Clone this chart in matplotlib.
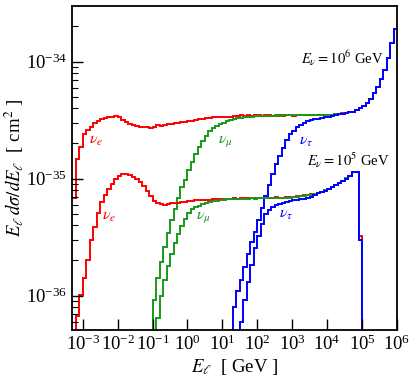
import numpy as np
import matplotlib
matplotlib.use('Agg')
import matplotlib.pyplot as plt

plt.rcParams['font.family'] = 'serif'
plt.rcParams['font.serif'] = ['Liberation Serif', 'DejaVu Serif']
plt.rcParams['mathtext.fontset'] = 'stix'

# lepton energy bins, 10 per decade (GeV)
log_edges = np.round(np.arange(-3.3, 6.05, 0.1), 2)

# E_l dsigma/dE_l in units of 1e-36 cm^2, one value per bin
nue_1e6 = [6.84, 14.7, 18.7, 24.1, 26.1, 27.7, 29.9, 31.1, 32.4, 33.0,
           33.7, 34.0, 34.3, 33.4, 31.8, 30.5, 29.3, 28.8, 28.2, 27.7,
           27.7, 27.4, 27.1, 27.7, 28.5, 28.2, 28.8, 29.3, 29.6, 29.9,
           30.2, 30.5, 30.8, 31.1, 31.4, 31.8, 32.1, 32.4, 32.7, 33.0,
           33.4, 33.4, 33.7, 33.7, 34.0, 34.0, 34.3, 34.2, 35.0, 34.6,
           34.9, 34.3, 34.8, 35.1, 34.5, 34.7, 35.0, 34.6, 34.4, 34.8,
           34.6, 34.7, 34.9, 34.6, 34.8, 34.9, 34.7, 34.9, 35.0, 34.8,
           35.0, 35.1, 35.0, 35.1, 35.2, 35.4, 35.7, 36.1, 36.4, 36.8,
           37.5, 38.6, 40.2, 41.8, 44.4, 48.0, 54.0, 60.8, 71.1, 84.9,
           107.5, 144.5, 190.3]
numu_1e6 = [0] * 23 + [
           0.919, 1.42, 1.94, 2.61, 3.43, 4.44, 5.51, 6.84, 8.49, 9.75,
           11.9, 13.9, 16.3, 18.7, 21.0, 23.2, 25.6, 27.1, 28.2, 29.3,
           30.2, 31.1, 31.8, 32.4, 32.7, 33.0, 33.4, 33.7, 34.0, 34.3,
           34.3, 34.5, 34.4, 34.6, 34.5, 34.7, 34.6, 34.8, 34.7, 34.8,
           34.9, 34.8, 34.9, 35.0, 34.9, 35.1, 35.0, 35.1, 35.2, 35.2,
           35.3, 35.2, 35.5, 35.7, 36.0, 36.4, 36.9, 37.4, 38.5, 40.1,
           41.9, 44.3, 48.1, 53.8, 60.9, 71.0, 85.0, 107.3, 144.7, 190.0]
nutau_1e6 = [0] * 46 + [
           0.80, 1.10, 1.36, 1.76, 2.27, 2.88, 3.50, 4.44, 5.62, 7.11,
           8.83, 11.0, 13.4, 15.6, 18.3, 21.4, 24.1, 25.6, 27.7, 29.0,
           30.2, 31.1, 31.8, 32.1, 32.4, 33.0, 33.4, 33.7, 34.3, 35.0,
           35.5, 36.0, 36.4, 36.8, 37.5, 38.6, 40.2, 41.8, 44.4, 48.0,
           54.0, 60.8, 71.1, 84.9, 107.5, 144.5, 190.3]

nue_1e5 = [0.418, 0.671, 1.014, 1.42, 2.02, 2.99, 3.86, 5.09, 6.32, 7.26,
           8.16, 9.01, 9.94, 10.65, 11.0, 11.0, 10.75, 10.3, 9.94, 9.37,
           8.66, 7.85, 7.11, 6.45, 6.20, 6.08, 5.96, 6.08, 6.14, 6.20,
           6.26, 6.32, 6.38, 6.45, 6.51, 6.58, 6.64, 6.60, 6.62, 6.60,
           6.66, 6.70, 6.68, 6.74, 6.77, 6.72, 6.80, 6.76, 6.82, 6.78,
           6.84, 6.80, 6.86, 6.83, 6.88, 6.84, 6.90, 6.86, 6.92, 6.88,
           6.90, 6.93, 6.91, 6.98, 7.05, 7.11, 7.19, 7.26, 7.33, 7.47,
           7.55, 7.70, 7.93, 8.16, 8.49, 8.83, 9.19, 9.56, 10.0, 10.65,
           11.4, 11.5, 3.24] + [0] * 10
numu_1e5 = [0] * 24 + [
           0.645, 0.994, 1.36, 1.79, 2.27, 2.82, 3.37, 3.94, 4.52, 5.09,
           5.51, 5.73, 5.90, 6.08, 6.20, 6.32, 6.45, 6.51, 6.58, 6.64,
           6.66, 6.70, 6.68, 6.72, 6.74, 6.72, 6.76, 6.78, 6.77, 6.80,
           6.82, 6.81, 6.84, 6.86, 6.85, 6.88, 6.89, 6.90, 6.90, 6.96,
           7.03, 7.12, 7.17, 7.27, 7.31, 7.45, 7.56, 7.68, 7.95, 8.14,
           8.51, 8.80, 9.22, 9.53, 10.05, 10.6, 11.35, 11.5, 2.99] + [0] * 10
nutau_1e5 = [0] * 48 + [
           0.596, 0.919, 1.31, 1.83, 2.56, 3.24, 4.10, 4.99, 5.40, 5.73,
           5.96, 6.08, 6.20, 6.32, 6.45, 6.58, 6.64, 6.71, 6.77, 6.84,
           6.98, 7.20, 7.50, 7.65, 7.90, 8.15, 8.45, 8.80, 9.15,
           9.55, 10.0, 10.6, 11.4, 11.5, 2.99] + [0] * 10

colors = {'e': '#ff0000', 'mu': '#1a991a', 'tau': '#0000ff'}

fig = plt.figure(figsize=(4.15, 3.84), dpi=100)
ax = fig.add_axes([72 / 415, 1 - 330 / 384, 325 / 415, 324 / 384])

edges = 10.0 ** log_edges
series = [(nue_1e6, 'e'), (numu_1e6, 'mu'), (nutau_1e6, 'tau'),
          (nue_1e5, 'e'), (numu_1e5, 'mu'), (nutau_1e5, 'tau')]
for vals, fl in series:
    v = np.array(vals, dtype=float) * 1e-36
    ax.stairs(v, edges, baseline=None, color=colors[fl], lw=1.4)

ax.set_xscale('log')
ax.set_yscale('log')
ax.set_xlim(10 ** -3.307, 1e6)
ax.set_ylim(10 ** -36.293, 10 ** -33.524)
ax.set_xticks(10.0 ** np.arange(-3, 7))
ax.set_yticks([1e-36, 1e-35, 1e-34])

ax.tick_params(which='both', direction='in', top=False, right=False,
               labelsize=13.5)
ax.tick_params(which='major', length=8, width=1)
ax.tick_params(which='minor', length=4.5, width=0.8)
for s in ax.spines.values():
    s.set_linewidth(1.3)

ax.set_xlabel(r'$E_\ell$  [ GeV ]', fontsize=13.5, labelpad=2)
ax.set_ylabel(r'$E_\ell\,d\sigma/dE_\ell$  [ cm$^2$ ]', fontsize=13.5)
ax.yaxis.set_label_coords(-0.14, 0.5)

# curve labels
tx = ax.transAxes
ax.text(0.074, 0.586, r'$\nu_e$', color=colors['e'], fontsize=11.5, ha='center', va='center', transform=tx)
ax.text(0.114, 0.352, r'$\nu_e$', color=colors['e'], fontsize=11.5, ha='center', va='center', transform=tx)
ax.text(0.471, 0.583, r'$\nu_\mu$', color=colors['mu'], fontsize=11.5, ha='center', va='center', transform=tx)
ax.text(0.403, 0.350, r'$\nu_\mu$', color=colors['mu'], fontsize=11.5, ha='center', va='center', transform=tx)
ax.text(0.720, 0.583, r'$\nu_\tau$', color=colors['tau'], fontsize=11.5, ha='center', va='center', transform=tx)
ax.text(0.658, 0.358, r'$\nu_\tau$', color=colors['tau'], fontsize=11.5, ha='center', va='center', transform=tx)
ax.text(0.958, 0.840, r'$E_\nu = 10^6$ GeV', fontsize=10.5, ha='right', va='center', transform=tx)
ax.text(0.978, 0.525, r'$E_\nu = 10^5$ GeV', fontsize=10.5, ha='right', va='center', transform=tx)

fig.savefig('out.png', dpi=100)
